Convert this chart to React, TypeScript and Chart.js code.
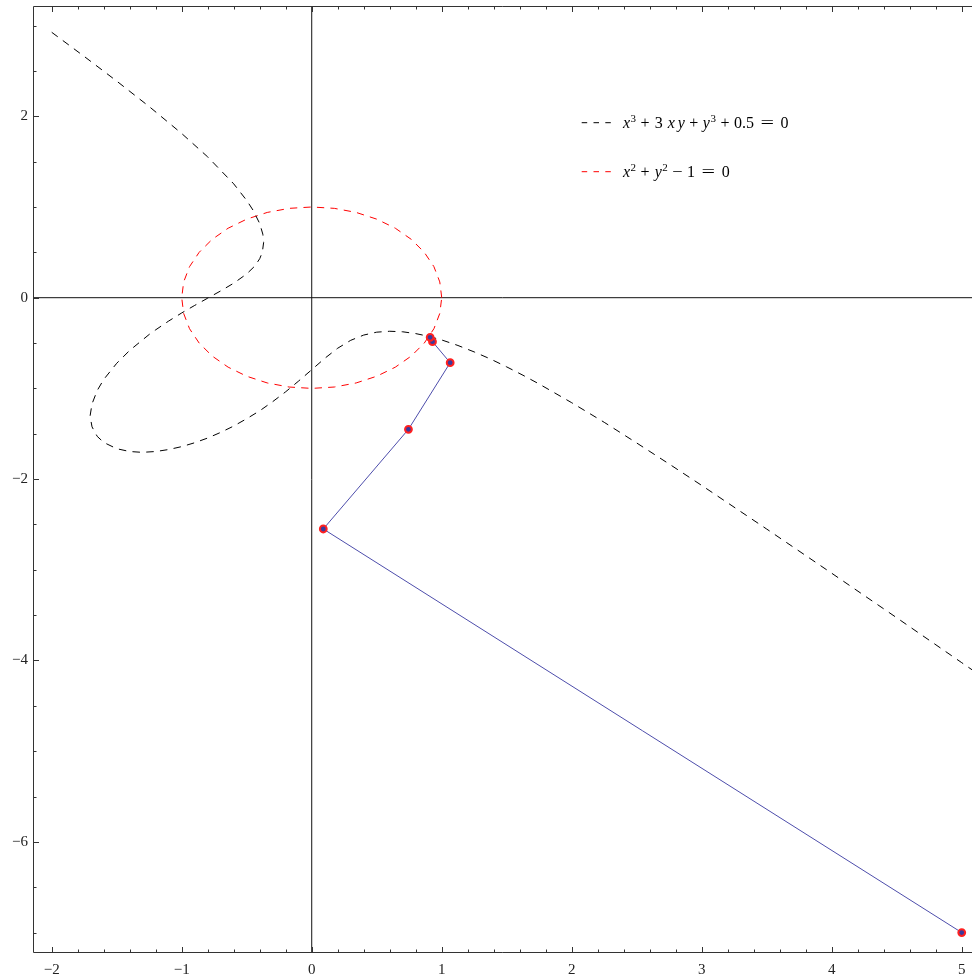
import React, { useEffect, useRef } from 'react';
import { Chart, registerables } from 'chart.js';

Chart.register(...registerables);

// x^3 + 3xy + y^3 + 0.5 = 0
const cubicX = [
  -2, -1.75, -1.5, -1.25, -1, -0.8, -0.6, -0.5, -0.45, -0.4, -0.376, -0.37, -0.38, -0.4, -0.437, -0.5,
  -0.6, -0.7, -0.8, -0.9, -1, -1.1, -1.2, -1.25, -1.4, -1.5, -1.6, -1.65, -1.69, -1.705, -1.69, -1.65,
  -1.6, -1.5, -1.4, -1.305, -1.2, -1.1, -1, -0.9, -0.8, -0.7, -0.6, -0.5, -0.4, -0.3, -0.2, -0.1,
  0, 0.1, 0.2, 0.3, 0.4, 0.5, 0.6, 0.7, 0.8, 0.9, 1, 1.125, 1.25, 1.375, 1.5, 1.625, 1.75, 2, 2.25, 2.5,
  2.75, 3, 3.5, 4, 4.5, 5, 5.08,
];
const cubicY = [
  2.926, 2.66, 2.388, 2.107, 1.81, 1.552, 1.255, 1.072, 0.962, 0.817, 0.7, 0.608, 0.5, 0.43, 0.35, 0.262,
  0.16, 0.075, -0.005, -0.085, -0.168, -0.257, -0.354, -0.405, -0.581, -0.723, -0.902, -1.023, -1.171, -1.305, -1.424, -1.529,
  -1.596, -1.665, -1.696, -1.705, -1.696, -1.674, -1.642, -1.599, -1.547, -1.485, -1.415, -1.334, -1.247, -1.146, -1.037, -0.918,
  -0.794, -0.669, -0.557, -0.47, -0.412, -0.38, -0.37, -0.376, -0.396, -0.426, -0.466, -0.527, -0.598, -0.676, -0.763, -0.855, -0.952, -1.158, -1.374, -1.602,
  -1.834, -2.07, -2.551, -3.038, -3.529, -4.024, -4.103,
];

// x^2 + y^2 - 1 = 0
const circleX = [
  1, 0.985, 0.94, 0.866, 0.766, 0.643, 0.5, 0.342, 0.174, 0, -0.174, -0.342, -0.5, -0.643, -0.766, -0.866, -0.94, -0.985,
  -1, -0.985, -0.94, -0.866, -0.766, -0.643, -0.5, -0.342, -0.174, 0, 0.174, 0.342, 0.5, 0.643, 0.766, 0.866, 0.94, 0.985, 1,
];
const circleY = [
  0, 0.174, 0.342, 0.5, 0.643, 0.766, 0.866, 0.94, 0.985, 1, 0.985, 0.94, 0.866, 0.766, 0.643, 0.5, 0.342, 0.174,
  0, -0.174, -0.342, -0.5, -0.643, -0.766, -0.866, -0.94, -0.985, -1, -0.985, -0.94, -0.866, -0.766, -0.643, -0.5, -0.342, -0.174, 0,
];

// iteration path
const iterX = [5, 0.089, 0.744, 1.065, 0.929, 0.911];
const iterY = [-7, -2.55, -1.451, -0.717, -0.485, -0.437];

const xTickValues = [-2, -1, 0, 1, 2, 3, 4, 5];
const yTickValues = [-6, -4, -2, 0, 2];
const xMinorStep = 0.2;
const yMinorStep = 0.5;

const X_MIN = -2.144;
const X_MAX = 5.079;
const Y_MIN = -7.225;
const Y_MAX = 3.216;

const SERIF = '"Liberation Serif", "Times New Roman", serif';

// legend text pieces: t = text, k = n(ormal) / i(talic) / s(uperscript), g = gap before, sx = horizontal stretch
type Part = { t: string; k: 'n' | 'i' | 's'; g: number; sx?: number };
const legend1Label = 'x³ + 3 x y + y³ + 0.5 = 0';
const legend2Label = 'x² + y² − 1 = 0';
const legend1Parts: Part[] = [
  { t: 'x', k: 'i', g: 0 },
  { t: '3', k: 's', g: 0.5 },
  { t: '+', k: 'n', g: 4.5 },
  { t: '3', k: 'n', g: 5 },
  { t: 'x', k: 'i', g: 5 },
  { t: 'y', k: 'i', g: 3 },
  { t: '+', k: 'n', g: 4.5 },
  { t: 'y', k: 'i', g: 4.5 },
  { t: '3', k: 's', g: 0.5 },
  { t: '+', k: 'n', g: 4.5 },
  { t: '0.5', k: 'n', g: 4.5 },
  { t: '=', k: 'n', g: 6.5, sx: 1.5 },
  { t: '0', k: 'n', g: 6.5 },
];
const legend2Parts: Part[] = [
  { t: 'x', k: 'i', g: 0 },
  { t: '2', k: 's', g: 0.5 },
  { t: '+', k: 'n', g: 4.5 },
  { t: 'y', k: 'i', g: 5 },
  { t: '2', k: 's', g: 0.5 },
  { t: '−', k: 'n', g: 4.5, sx: 1.15 },
  { t: '1', k: 'n', g: 4.5 },
  { t: '=', k: 'n', g: 6.5, sx: 1.5 },
  { t: '0', k: 'n', g: 6.5 },
];
const legendRows = [
  { color: '#000000', lineY: 122.7, base: 128.3, parts: legend1Parts },
  { color: '#ff0000', lineY: 171.7, base: 177.3, parts: legend2Parts },
];

const fmt = (v: number) => (v < 0 ? '−' + Math.abs(v) : String(v));

const axesPlugin = {
  id: 'mmaAxes',
  beforeDatasetsDraw(chart: any) {
    const { ctx, chartArea } = chart;
    const xs = chart.scales.x;
    const ys = chart.scales.y;
    ctx.save();
    ctx.strokeStyle = '#111111';
    ctx.lineWidth = 1;
    const x0 = xs.getPixelForValue(0);
    const y0 = ys.getPixelForValue(0);
    ctx.beginPath();
    ctx.moveTo(x0, chartArea.top);
    ctx.lineTo(x0, chartArea.bottom);
    ctx.moveTo(chartArea.left, y0);
    ctx.lineTo(chartArea.right, y0);
    ctx.stroke();
    ctx.restore();
  },
  afterDatasetsDraw(chart: any) {
    const { ctx, chartArea } = chart;
    const xs = chart.scales.x;
    const ys = chart.scales.y;
    const L = Math.floor(chartArea.left) + 0.5;
    const T = Math.floor(chartArea.top) + 0.5;
    const B = Math.floor(chartArea.bottom) - 0.5;
    ctx.save();
    ctx.strokeStyle = '#333333';
    ctx.lineWidth = 1;
    ctx.beginPath();
    ctx.moveTo(L, T);
    ctx.lineTo(chartArea.right, T);
    ctx.moveTo(L, T);
    ctx.lineTo(L, B);
    ctx.lineTo(chartArea.right, B);
    ctx.stroke();
    // x ticks (bottom and top, pointing inward)
    ctx.beginPath();
    const nx0 = Math.ceil(X_MIN / xMinorStep - 1e-6);
    const nx1 = Math.floor(X_MAX / xMinorStep + 1e-6);
    for (let i = nx0; i <= nx1; i++) {
      const v = i * xMinorStep;
      const major = Math.abs(v - Math.round(v)) < 1e-6;
      const len = major ? 5.5 : 3;
      const px = Math.round(xs.getPixelForValue(v)) + 0.5;
      ctx.moveTo(px, B);
      ctx.lineTo(px, B - len);
      ctx.moveTo(px, T);
      ctx.lineTo(px, T + len);
    }
    // y ticks (left, pointing inward)
    const ny0 = Math.ceil(Y_MIN / yMinorStep - 1e-6);
    const ny1 = Math.floor(Y_MAX / yMinorStep + 1e-6);
    for (let i = ny0; i <= ny1; i++) {
      const v = i * yMinorStep;
      const major = Math.abs(v / 2 - Math.round(v / 2)) < 1e-6;
      const len = major ? 5.5 : 3;
      const py = Math.round(ys.getPixelForValue(v)) + 0.5;
      ctx.moveTo(L, py);
      ctx.lineTo(L + len, py);
    }
    ctx.stroke();
    ctx.restore();
  },
  afterDraw(chart: any) {
    const { ctx } = chart;
    ctx.save();
    const textLeft = 623;
    for (const row of legendRows) {
      ctx.strokeStyle = row.color;
      ctx.lineWidth = 1;
      ctx.setLineDash([5.5, 6.3]);
      ctx.beginPath();
      ctx.moveTo(581.7, row.lineY);
      ctx.lineTo(612, row.lineY);
      ctx.stroke();
      ctx.setLineDash([]);
      ctx.fillStyle = '#000000';
      ctx.textAlign = 'left';
      ctx.textBaseline = 'alphabetic';
      let x = textLeft;
      for (const p of row.parts) {
        let y = row.base;
        if (p.k === 'i') ctx.font = `italic 16px ${SERIF}`;
        else if (p.k === 's') {
          ctx.font = `11px ${SERIF}`;
          y = row.base - 6;
        } else ctx.font = `16px ${SERIF}`;
        x += p.g;
        const sx = p.sx || 1;
        const w = ctx.measureText(p.t).width * sx;
        ctx.save();
        ctx.translate(x, y);
        ctx.scale(sx, 1);
        ctx.fillText(p.t, 0, 0);
        ctx.restore();
        x += w;
      }
    }
    ctx.restore();
  },
};

export default function App() {
  const ref = useRef<HTMLCanvasElement | null>(null);
  useEffect(() => {
    if (!ref.current) return;
    const chart = new Chart(ref.current, {
      type: 'scatter',
      data: {
        datasets: [
          {
            label: 'iterations',
            data: iterX.map((x, i) => ({ x, y: iterY[i] })),
            showLine: true,
            borderColor: '#4d4dab',
            borderWidth: 1,
            pointBackgroundColor: '#3a3a9c',
            pointBorderColor: '#ff2020',
            pointBorderWidth: 2,
            pointRadius: 3.4,
            tension: 0,
          },
          {
            label: legend1Label,
            data: cubicX.map((x, i) => ({ x, y: cubicY[i] })),
            showLine: true,
            borderColor: '#000000',
            borderWidth: 1,
            borderDash: [7.5, 6.3],
            pointRadius: 0,
            tension: 0,
          },
          {
            label: legend2Label,
            data: circleX.map((x, i) => ({ x, y: circleY[i] })),
            showLine: true,
            borderColor: '#ff0000',
            borderWidth: 1,
            borderDash: [7.3, 6.2],
            pointRadius: 0,
            tension: 0,
          },
        ],
      },
      options: {
        animation: false,
        responsive: false,
        events: [],
        layout: { autoPadding: false, padding: { top: 6, right: 0, bottom: 0, left: 0 } },
        plugins: { legend: { display: false }, tooltip: { enabled: false } },
        scales: {
          x: {
            type: 'linear',
            position: 'bottom',
            min: X_MIN,
            max: X_MAX,
            grid: { display: false, drawTicks: false },
            border: { display: false },
            ticks: {
              padding: 8,
              autoSkip: false,
              maxRotation: 0,
              color: '#222222',
              font: { family: SERIF, size: 15 },
              callback: (v: any) => fmt(Number(v)),
            },
            afterBuildTicks: (s: any) => {
              s.ticks = xTickValues.map((v) => ({ value: v }));
            },
            afterFit: (s: any) => {
              s.height = 24;
              s.paddingLeft = 0;
              s.paddingRight = 0;
              s.paddingTop = 0;
              s.paddingBottom = 0;
            },
          },
          y: {
            type: 'linear',
            position: 'left',
            min: Y_MIN,
            max: Y_MAX,
            grid: { display: false, drawTicks: false },
            border: { display: false },
            ticks: {
              padding: 5,
              autoSkip: false,
              color: '#222222',
              font: { family: SERIF, size: 15 },
              callback: (v: any) => fmt(Number(v)),
            },
            afterBuildTicks: (s: any) => {
              s.ticks = yTickValues.map((v) => ({ value: v }));
            },
            afterFit: (s: any) => {
              s.width = 33;
              s.paddingLeft = 0;
              s.paddingRight = 0;
              s.paddingTop = 0;
              s.paddingBottom = 0;
            },
          },
        },
      },
      plugins: [axesPlugin],
    });
    return () => chart.destroy();
  }, []);
  return (
    <div style={{ position: 'fixed', left: 0, top: 0, width: 972, height: 977, background: '#ffffff' }}>
      <canvas ref={ref} width={972} height={977} style={{ width: 972, height: 977, display: 'block' }} />
    </div>
  );
}
